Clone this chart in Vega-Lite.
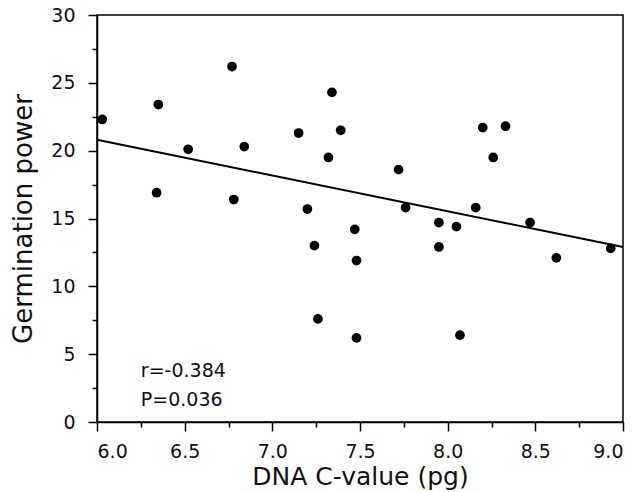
{
  "$schema": "https://vega.github.io/schema/vega-lite/v6.json",
  "width": 526,
  "height": 407,
  "autosize": {"type": "none"},
  "padding": {"left": 97, "top": 15, "right": 17, "bottom": 70},
  "background": "white",
  "config": {
    "view": {"stroke": "black", "strokeWidth": 1.5},
    "font": "DejaVu Sans",
    "axis": {
      "domainColor": "black", "domainWidth": 1.5, "tickColor": "black", "tickWidth": 1.5,
      "labelColor": "#111", "titleColor": "#111", "labelFont": "DejaVu Sans", "titleFont": "DejaVu Sans",
      "labelFontSize": 19, "titleFontWeight": "normal", "grid": false
    }
  },
  "datasets": {
    "pts": [
      {"c": 6.03, "g": 22.3}, {"c": 6.35, "g": 23.4}, {"c": 6.34, "g": 16.9}, {"c": 6.52, "g": 20.1},
      {"c": 6.77, "g": 26.2}, {"c": 6.78, "g": 16.4}, {"c": 6.84, "g": 20.3}, {"c": 7.15, "g": 21.3},
      {"c": 7.2, "g": 15.7}, {"c": 7.24, "g": 13.0}, {"c": 7.26, "g": 7.6}, {"c": 7.32, "g": 19.5},
      {"c": 7.34, "g": 24.3}, {"c": 7.39, "g": 21.5}, {"c": 7.47, "g": 14.2}, {"c": 7.48, "g": 11.9},
      {"c": 7.48, "g": 6.2}, {"c": 7.72, "g": 18.6}, {"c": 7.76, "g": 15.8}, {"c": 7.95, "g": 14.7},
      {"c": 7.95, "g": 12.9}, {"c": 8.05, "g": 14.4}, {"c": 8.07, "g": 6.4}, {"c": 8.16, "g": 15.8},
      {"c": 8.2, "g": 21.7}, {"c": 8.26, "g": 19.5}, {"c": 8.33, "g": 21.8}, {"c": 8.47, "g": 14.7},
      {"c": 8.62, "g": 12.1}, {"c": 8.93, "g": 12.8}
    ],
    "fit": [{"c": 6.0, "g": 20.8}, {"c": 9.0, "g": 12.9}],
    "notes": [{"c": 6.25, "g": 3.3, "t": "r=-0.384"}, {"c": 6.25, "g": 1.2, "t": "P=0.036"}]
  },
  "resolve": {"axis": {"x": "independent", "y": "independent"}},
  "layer": [
    {
      "data": {"name": "pts"},
      "mark": {"type": "point", "filled": true, "color": "black", "opacity": 1, "size": 95},
      "encoding": {
        "x": {"field": "c", "type": "quantitative", "scale": {"domain": [6, 9], "nice": false, "zero": false},
          "axis": {"orient": "bottom", "values": [6, 6.5, 7, 7.5, 8, 8.5, 9], "format": ".1f", "tickSize": 9, "labelPadding": 11,
            "title": "DNA C-value (pg)", "titleFontSize": 25, "titlePadding": 3}},
        "y": {"field": "g", "type": "quantitative", "scale": {"domain": [0, 30], "nice": false},
          "axis": {"orient": "left", "values": [0, 5, 10, 15, 20, 25, 30], "tickSize": 9, "labelPadding": 13,
            "title": "Germination power", "titleFontSize": 26, "titlePadding": 14}}
      }
    },
    {
      "data": {"name": "fit"},
      "mark": {"type": "line", "color": "black", "strokeWidth": 2},
      "encoding": {
        "x": {"field": "c", "type": "quantitative", "scale": {"domain": [6, 9], "nice": false, "zero": false},
          "axis": {"orient": "bottom", "values": [6.25, 6.75, 7.25, 7.75, 8.25, 8.75], "labels": false, "domain": false, "tickSize": 5, "title": null}},
        "y": {"field": "g", "type": "quantitative", "scale": {"domain": [0, 30], "nice": false},
          "axis": {"orient": "left", "values": [2.5, 7.5, 12.5, 17.5, 22.5, 27.5], "labels": false, "domain": false, "tickSize": 5, "title": null}}
      }
    },
    {
      "data": {"name": "notes"},
      "mark": {"type": "text", "align": "left", "baseline": "alphabetic", "fontSize": 19, "color": "#111", "font": "DejaVu Sans"},
      "encoding": {
        "x": {"field": "c", "type": "quantitative", "scale": {"domain": [6, 9], "nice": false, "zero": false}, "axis": null},
        "y": {"field": "g", "type": "quantitative", "scale": {"domain": [0, 30], "nice": false}, "axis": null},
        "text": {"field": "t"}
      }
    }
  ]
}
